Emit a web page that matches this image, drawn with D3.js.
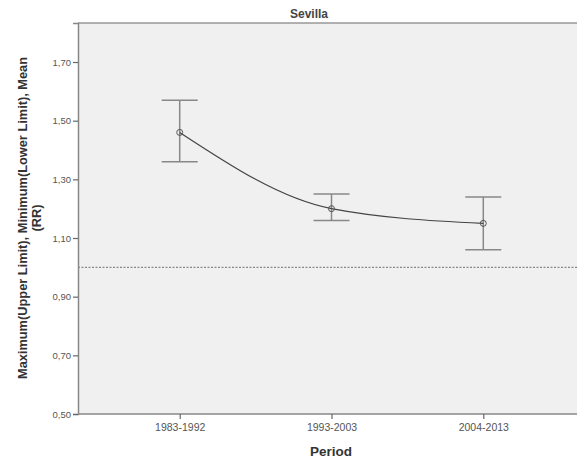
<!DOCTYPE html>
<html>
<head>
<meta charset="utf-8">
<script src="https://cdn.jsdelivr.net/npm/d3@7"></script>
<style>
  body { margin: 0; background: #fff; }
  svg { display: block; font-family: "Liberation Sans", Arial, sans-serif; }
</style>
</head>
<body>
<svg id="chart" width="577" height="460"></svg>
<script>
const periods = ['1983-1992', '1993-2003', '2004-2013']
const means = [1.46, 1.20, 1.15]
const upper = [1.57, 1.25, 1.24]
const lower = [1.36, 1.16, 1.06]
const yTicks = [0.5, 0.7, 0.9, 1.1, 1.3, 1.5, 1.7]
const refValue = 1.0

const svg = d3.select('#chart')
const plot = { left: 78, top: 23, right: 585, bottom: 414 }

const x = d3.scalePoint(periods, [plot.left, plot.right]).padding(0.67)
const y = d3.scaleLinear([0.5, 1.833], [plot.bottom, plot.top])

// background
svg.append('rect')
  .attr('x', plot.left).attr('y', plot.top)
  .attr('width', plot.right - plot.left).attr('height', plot.bottom - plot.top)
  .attr('fill', '#f0f0f0')
svg.append('line')
  .attr('x1', plot.left).attr('x2', plot.right)
  .attr('y1', plot.top).attr('y2', plot.top)
  .attr('stroke', '#999').attr('stroke-width', 1.5)

// axes
const fmt = d => d3.format('.2f')(d).replace('.', ',')
const yAxis = svg.append('g')
  .attr('transform', `translate(${plot.left},0)`)
  .call(d3.axisLeft(y).tickValues(yTicks).tickFormat(fmt).tickSize(5).tickPadding(2))
const xAxis = svg.append('g')
  .attr('transform', `translate(0,${plot.bottom})`)
  .call(d3.axisBottom(x).tickSize(5).tickPadding(5))
xAxis.select('.domain').attr('d', `M${plot.left},0H${plot.right}`)
;[yAxis, xAxis].forEach(g => {
  g.select('.domain').attr('stroke', '#888').attr('stroke-width', 1.5)
  g.selectAll('.tick line').attr('stroke', '#666').attr('stroke-width', 1.2)
  g.selectAll('.tick text').attr('fill', '#555').attr('font-size', 9.5)
    .attr('font-family', '"Liberation Sans", Arial, sans-serif')
})
xAxis.selectAll('.tick text').attr('font-size', 10.5)
xAxis.selectAll('.tick line').attr('y1', 0)

// reference line
svg.append('line')
  .attr('x1', plot.left).attr('x2', plot.right)
  .attr('y1', y(refValue)).attr('y2', y(refValue))
  .attr('stroke', '#888').attr('stroke-width', 1.2)
  .attr('stroke-dasharray', '2,1.5')

// error bars
const rows = periods.map((p, i) => ({ p, m: means[i], hi: upper[i], lo: lower[i] }))
const capW = 18
const bars = svg.append('g').attr('stroke', '#888').attr('stroke-width', 1.5)
rows.forEach(d => {
  const cx = x(d.p)
  bars.append('line').attr('x1', cx).attr('x2', cx).attr('y1', y(d.hi)).attr('y2', y(d.lo))
  bars.append('line').attr('x1', cx - capW).attr('x2', cx + capW).attr('y1', y(d.hi)).attr('y2', y(d.hi))
  bars.append('line').attr('x1', cx - capW).attr('x2', cx + capW).attr('y1', y(d.lo)).attr('y2', y(d.lo))
})

// mean line
const line = d3.line().x(d => x(d.p)).y(d => y(d.m)).curve(d3.curveMonotoneX)
svg.append('path').datum(rows)
  .attr('d', line).attr('fill', 'none')
  .attr('stroke', '#444').attr('stroke-width', 1.2)

svg.append('g').selectAll('circle').data(rows).join('circle')
  .attr('cx', d => x(d.p)).attr('cy', d => y(d.m)).attr('r', 3)
  .attr('fill', 'none').attr('stroke', '#555').attr('stroke-width', 1)

// titles
svg.append('text').attr('x', 309).attr('y', 18)
  .attr('text-anchor', 'middle').attr('font-size', 12).attr('font-weight', 'bold')
  .attr('fill', '#444').text('Sevilla')
svg.append('text').attr('x', 331).attr('y', 456)
  .attr('text-anchor', 'middle').attr('font-size', 13.5).attr('font-weight', 'bold')
  .attr('fill', '#333').text('Period')
const yTitle = svg.append('text')
  .attr('transform', 'translate(27,218) rotate(-90)')
  .attr('text-anchor', 'middle').attr('font-size', 12.8).attr('font-weight', 'bold')
  .attr('fill', '#333')
yTitle.append('tspan').attr('x', 0).attr('dy', 0)
  .text('Maximum(Upper Limit), Minimum(Lower Limit), Mean')
yTitle.append('tspan').attr('x', 0).attr('dy', 14).text('(RR)')
</script>
</body>
</html>
